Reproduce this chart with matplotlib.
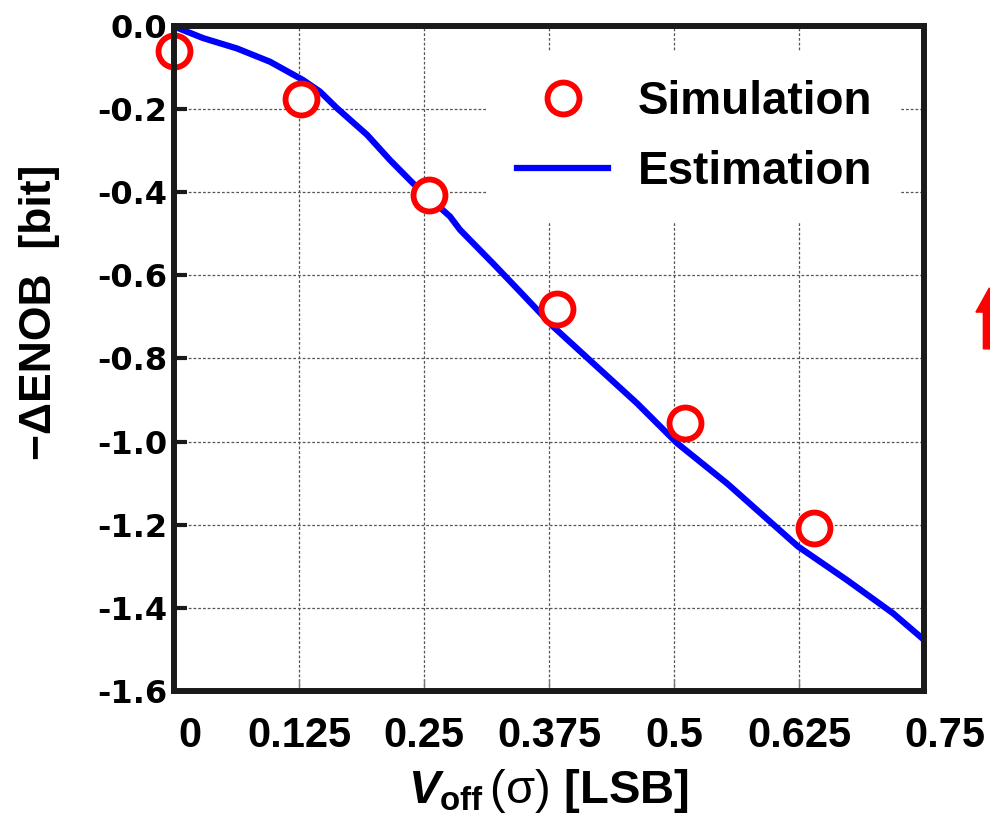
#!/usr/bin/env python3
"""-dENOB vs comparator offset: simulation points and estimation curve."""

import matplotlib
matplotlib.use("Agg")
import matplotlib.pyplot as plt
from matplotlib.transforms import ScaledTranslation
from matplotlib.patches import FancyArrow

# simulated points
sim_x = [0.0, 0.127, 0.255, 0.383, 0.511, 0.640]
sim_y = [-0.058, -0.175, -0.407, -0.681, -0.956, -1.209]

# estimation curve
est_x = [0.0, 0.029, 0.063, 0.096, 0.129, 0.146, 0.163, 0.193, 0.216, 0.239,
         0.276, 0.286, 0.319, 0.346, 0.379, 0.423, 0.463, 0.503, 0.553, 0.624,
         0.673, 0.719, 0.750]
est_y = [0.0, -0.028, -0.053, -0.085, -0.129, -0.157, -0.197, -0.261, -0.322,
         -0.378, -0.458, -0.490, -0.571, -0.639, -0.723, -0.820, -0.908, -1.004,
         -1.101, -1.253, -1.334, -1.414, -1.478]

xticks = [0, 0.125, 0.25, 0.375, 0.5, 0.625, 0.75]
xtick_labels = ["0", "0.125", "0.25", "0.375", "0.5", "0.625", "0.75"]
yticks = [0.0, -0.2, -0.4, -0.6, -0.8, -1.0, -1.2, -1.4, -1.6]
ytick_labels = ["0.0", "-0.2", "-0.4", "-0.6", "-0.8", "-1.0", "-1.2", "-1.4", "-1.6"]

plt.rcParams["mathtext.fontset"] = "custom"
plt.rcParams["mathtext.rm"] = "Liberation Sans:bold"
plt.rcParams["mathtext.it"] = "Liberation Sans:bold:italic"
plt.rcParams["mathtext.bf"] = "Liberation Sans:bold"
plt.rcParams["mathtext.sf"] = "Liberation Sans"

fig = plt.figure(figsize=(9.9, 8.17), dpi=100)
ax = fig.add_axes([0.1758, 0.1548, 0.7576, 0.8128])

ax.plot(est_x, est_y, color="#0000ff", lw=4.5, label="Estimation", zorder=3)
ax.plot(sim_x, sim_y, linestyle="none", marker="o", markersize=23,
        markerfacecolor="white", markeredgecolor="#ff0000", markeredgewidth=4.2,
        label="Simulation", zorder=4, clip_on=False)

ax.set_xlim(0, 0.75)
ax.set_ylim(-1.6, 0.0)
ax.set_xticks(xticks)
ax.set_xticklabels(xtick_labels, family="Liberation Sans", weight="bold", fontsize=30)
ax.set_yticks(yticks)
ax.set_yticklabels(ytick_labels, family="DejaVu Sans", weight="bold", fontsize=23)

ax.tick_params(axis="y", direction="in", length=9, width=3, color="#1a1a1a", pad=5)
ax.tick_params(axis="x", direction="in", length=9, width=1, color="#777777", pad=18)

# end labels sit a bit to the right in the original
for lab, dx in ((ax.get_xticklabels()[0], 16), (ax.get_xticklabels()[-1], 21)):
    lab.set_transform(lab.get_transform() + ScaledTranslation(dx / 100, 0, fig.dpi_scale_trans))

ax.grid(True, color="#555555", linestyle=(0, (2.2, 1.6)), linewidth=0.9)
ax.set_axisbelow(True)
for sp in ax.spines.values():
    sp.set_linewidth(4.3)
    sp.set_color("#1a1a1a")
    sp.set_zorder(5)

ax.set_ylabel("\u2212\u0394ENOB  [bit]", family="Liberation Sans", weight="bold",
              fontsize=32)
ax.yaxis.set_label_coords(-0.152, 0.57)
ax.set_xlabel(r"$\mathit{V}_{\mathrm{off}}\,\mathsf{(\sigma)}$ [LSB]",
              family="Liberation Sans", weight="bold", fontsize=34, labelpad=8)

h, l = ax.get_legend_handles_labels()
leg = ax.legend(h[::-1], l[::-1], loc="upper left", bbox_to_anchor=(0.419, 0.9616),
                frameon=True, facecolor="white", edgecolor="none", framealpha=1,
                fancybox=False, borderpad=0.62, handlelength=2.0, handletextpad=0.65,
                labelspacing=0.56, borderaxespad=0,
                prop={"family": "Liberation Sans", "weight": "bold", "size": 33})
leg.set_zorder(6)

# stray red arrow cut off by the right edge
fig.patches.append(FancyArrow(0.9993, 0.573, 0, 0.0745, width=0.012, head_width=0.027,
                              head_length=0.0295, length_includes_head=True,
                              color="#ff0000", transform=fig.transFigure, figure=fig))

fig.savefig("out.png", dpi=100)
